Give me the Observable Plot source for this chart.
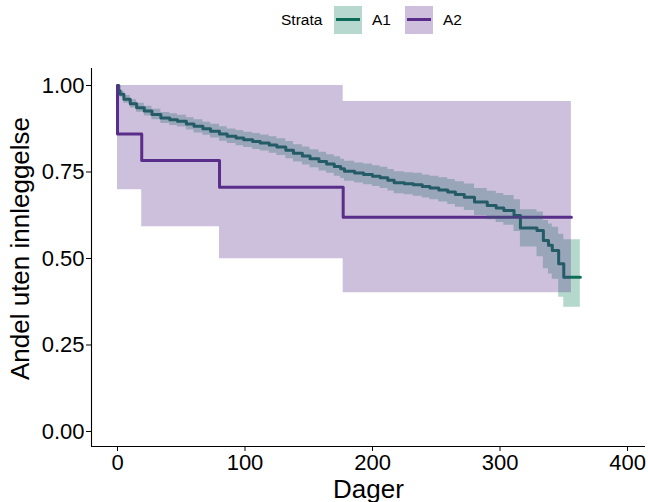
<!DOCTYPE html>
<html><head><meta charset="utf-8">
<script src="https://cdn.jsdelivr.net/npm/d3@7"></script>
<script src="https://cdn.jsdelivr.net/npm/@observablehq/plot@0.6"></script>
<style>
body{margin:0;background:#fff;font-family:"Liberation Sans",Arial,sans-serif}
#wrap{position:relative;width:648px;height:502px;overflow:hidden}
.lg{position:absolute;font-size:15.5px;color:#000;line-height:1}
.key{position:absolute;width:28px;height:28px}
.key i{position:absolute;left:2px;top:12px;width:24px;height:3px}
</style></head><body>
<div id="wrap"><div id="chart"></div><div id="legend"></div></div>
<script>
const strata = ["A1", "A2"];
const legendTitle = "Strata";
const xLabel = "Dager";
const yLabel = "Andel uten innleggelse";
const xTicks = [0, 100, 200, 300, 400];
const yTicks = [0, 0.25, 0.5, 0.75, 1];
const lineColors = ["#0D6B57", "#5A2D8A"];
const bandColors = ["#0A7D5A", "#5A2D8A"];

const a1Time  = [0,1,2,5,10,15,21,27,34,41,47,54,60,67,73,80,86,93,99,106,112,119,125,132,138,145,151,158,164,170,175,178,186,193,200,206,212,217,225,232,239,245,252,259,265,272,280,290,297,303,311,316,329,334,338,341,346,350,363];
const a1Surv  = [1.000,0.985,0.975,0.960,0.947,0.936,0.926,0.916,0.906,0.901,0.897,0.889,0.882,0.875,0.868,0.860,0.853,0.848,0.843,0.838,0.834,0.828,0.822,0.813,0.804,0.796,0.788,0.780,0.773,0.766,0.759,0.752,0.747,0.743,0.738,0.733,0.726,0.719,0.716,0.713,0.708,0.704,0.698,0.692,0.685,0.677,0.663,0.653,0.646,0.639,0.624,0.588,0.581,0.552,0.538,0.523,0.485,0.446,0.446];
const a1Lower = [1.000,0.978,0.966,0.949,0.935,0.923,0.912,0.901,0.890,0.884,0.880,0.871,0.863,0.856,0.848,0.839,0.832,0.826,0.821,0.815,0.811,0.804,0.798,0.788,0.779,0.770,0.762,0.753,0.746,0.738,0.731,0.723,0.718,0.713,0.708,0.702,0.695,0.687,0.684,0.680,0.675,0.670,0.663,0.656,0.648,0.639,0.624,0.612,0.604,0.596,0.578,0.533,0.505,0.470,0.455,0.440,0.388,0.359,0.359];
const a1Upper = [1.000,0.992,0.984,0.971,0.959,0.949,0.940,0.931,0.922,0.918,0.914,0.907,0.901,0.894,0.888,0.881,0.874,0.870,0.865,0.861,0.857,0.852,0.846,0.838,0.829,0.822,0.814,0.807,0.800,0.794,0.787,0.781,0.776,0.773,0.768,0.764,0.757,0.751,0.748,0.746,0.741,0.738,0.733,0.728,0.722,0.715,0.702,0.694,0.688,0.682,0.670,0.641,0.634,0.610,0.600,0.590,0.570,0.554,0.554];

const a2Time  = [0, 0, 19, 80, 177, 356];
const a2Surv  = [1.000, 0.860, 0.783, 0.706, 0.619, 0.619];
const a2Lower = [0.699, 0.699, 0.592, 0.499, 0.401, 0.401];
const a2Upper = [1.000, 1.000, 1.000, 1.000, 0.954, 0.954];

const a1 = a1Time.map((t, i) => ({t, s: a1Surv[i], lo: a1Lower[i], hi: a1Upper[i]}));
const a2 = a2Time.map((t, i) => ({t, s: a2Surv[i], lo: a2Lower[i], hi: a2Upper[i]}));

const xDomain = [-20.4, 414.1];
const yDomain = [-0.0434, 1.0491];

const chart = Plot.plot({
  width: 648, height: 502,
  marginLeft: 91, marginRight: 3, marginTop: 68, marginBottom: 56,
  style: {fontFamily: '"Liberation Sans", Arial, sans-serif', fontSize: "22px", color: "#000", background: "#fff"},
  x: {domain: xDomain},
  y: {domain: yDomain},
  marks: [
    Plot.line(a1, {x: "t", y: "s", curve: "step-after", stroke: lineColors[0], strokeWidth: 3}),
    Plot.line(a2, {x: "t", y: "s", curve: "step-after", stroke: lineColors[1], strokeWidth: 3}),
    Plot.areaY(a1, {x: "t", y1: "lo", y2: "hi", curve: "step-after", fill: bandColors[0], fillOpacity: 0.3}),
    Plot.areaY(a2, {x: "t", y1: "lo", y2: "hi", curve: "step-after", fill: bandColors[1], fillOpacity: 0.3}),
    Plot.axisX({ticks: xTicks, tickSize: 5, tickPadding: 3, label: null, tickFormat: d3.format("d")}),
    Plot.axisY({ticks: yTicks, tickSize: 5, tickPadding: 2, label: null, tickFormat: d3.format(".2f")}),
    Plot.ruleX([xDomain[0]], {stroke: "#000", strokeWidth: 1.1}),
    Plot.ruleY([yDomain[0]], {stroke: "#000", strokeWidth: 1.1}),
    Plot.text([xLabel], {frameAnchor: "bottom", lineAnchor: "bottom", textAnchor: "middle", dy: 51, fontSize: 26, fill: "#000"}),
    Plot.text([yLabel], {frameAnchor: "left", lineAnchor: "bottom", textAnchor: "middle", rotate: -90, dx: -63, dy: -9, fontSize: 26, fill: "#000"})
  ]
});
document.getElementById("chart").appendChild(chart);

// legend
const lg = document.getElementById("legend");
function add(html) { lg.insertAdjacentHTML("beforeend", html); }
add(`<div class="lg" style="left:281px;top:12px">${legendTitle}</div>`);
const keyLeft = [334, 405];
const textLeft = [372, 443];
strata.forEach((s, i) => {
  const bg = d3.color(bandColors[i]); const w = d3.rgb(255,255,255);
  const mix = d3.rgb(w.r*0.7 + bg.r*0.3, w.g*0.7 + bg.g*0.3, w.b*0.7 + bg.b*0.3);
  add(`<div class="key" style="left:${keyLeft[i]}px;top:6px;background:${mix}"><i style="background:${lineColors[i]}"></i></div>`);
  add(`<div class="lg" style="left:${textLeft[i]}px;top:12px">${s}</div>`);
});
</script>
</body></html>
